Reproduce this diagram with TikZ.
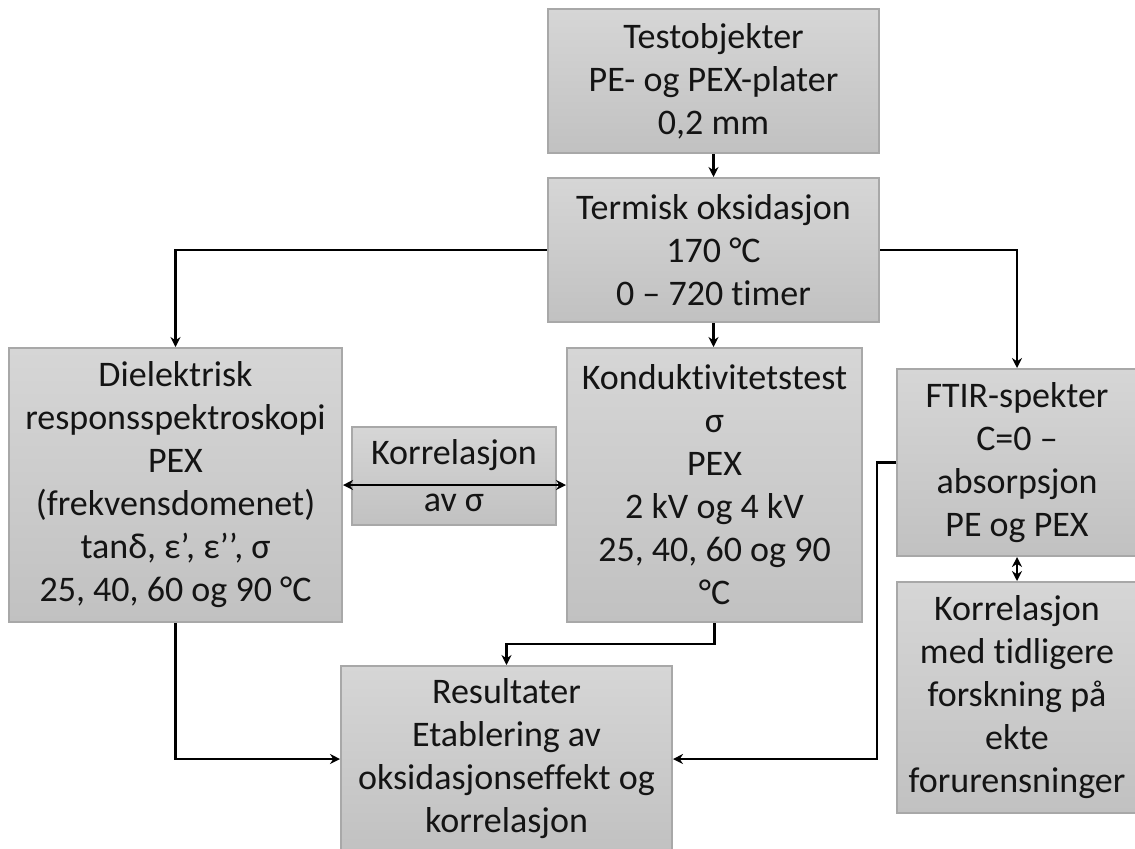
\documentclass[tikz,border=0pt]{standalone}
\usepackage{fontspec}
\setmainfont{Carlito}[Ligatures=NoCommon]
\usetikzlibrary{arrows.meta,calc}
\definecolor{boxtop}{RGB}{214,214,214}
\definecolor{boxbot}{RGB}{193,193,193}
\definecolor{boxline}{RGB}{168,168,168}
\definecolor{txt}{RGB}{20,20,20}
\tikzset{
  box/.style={draw=boxline, line width=1pt, top color=boxtop, bottom color=boxbot,
    align=center, inner sep=0pt, text=txt, font=\fontsize{18}{21.5}\selectfont},
  conn/.style={line width=1.4pt, black, -{Stealth[length=5pt,width=5pt]}},
  dconn/.style={line width=1.4pt, black, {Stealth[length=5pt,width=5pt]}-{Stealth[length=5pt,width=5pt]}}
}
\begin{document}
\begin{tikzpicture}[x=0.5pt,y=-0.5pt]
\useasboundingbox (0,0) rectangle (1135,848);
\node[box, minimum width=165.5pt, minimum height=72pt] (b1) at (713.5,81)
  {Testobjekter\\PE- og PEX-plater\\0,2 mm};
\node[box, minimum width=165.5pt, minimum height=72pt] (b2) at (713.5,250)
  {Termisk oksidasjon\\170 °C\\0 – 720 timer};
\node[box, minimum width=166.5pt, minimum height=137pt] (dr) at (175.5,485)
  {Dielektrisk\\responsspektroskopi\\PEX\\(frekvensdomenet)\\tanδ, ε’, ε’’, σ\\25, 40, 60 og 90 °C};
\node[box, minimum width=102pt, minimum height=49pt] (ka) at (454,476)
  {Korrelasjon\\[2pt]av σ};
\node[box, minimum width=147.5pt, minimum height=137pt] (kt) at (714.5,485)
  {Kondukt\kern0pt ivitetstest\\σ\\PEX\\2 kV og 4 kV\\25, 40, 60 og 90\\°C};
\node[box, minimum width=120pt, minimum height=93.5pt] (ft) at (1017,462.5)
  {FTIR-spekter\\C=0 –\\absorpsjon\\PE og PEX};
\node[box, minimum width=120pt, minimum height=115.5pt] (km) at (1017,697.5)
  {Korrelasjon\\med t\kern0pt idligere\\forskning på\\ekte\\forurensninger};
\node[box, minimum width=165.5pt, minimum height=93pt] (rs) at (506.5,759)
  {Resultater\\Etablering av\\oksidasjonseffekt og\\korrelasjon};

\draw[conn] (b1.south) -- (b2.north);
\draw[conn] (b2.west) -| (dr.north);
\draw[conn] (b2.east) -| (ft.north);
\draw[conn] (b2.south) -- (b2.south |- kt.north);
\draw[dconn] (dr.east) -- (kt.west);
\draw[dconn] (ft.south) -- (km.north);
\draw[conn] (kt.south) -- ++(0,21) -| (rs.north);
\draw[conn] (dr.south) |- (rs.west);
\draw[conn] (ft.west) -- ++(-19,0) |- (rs.east);
\end{tikzpicture}
\end{document}
